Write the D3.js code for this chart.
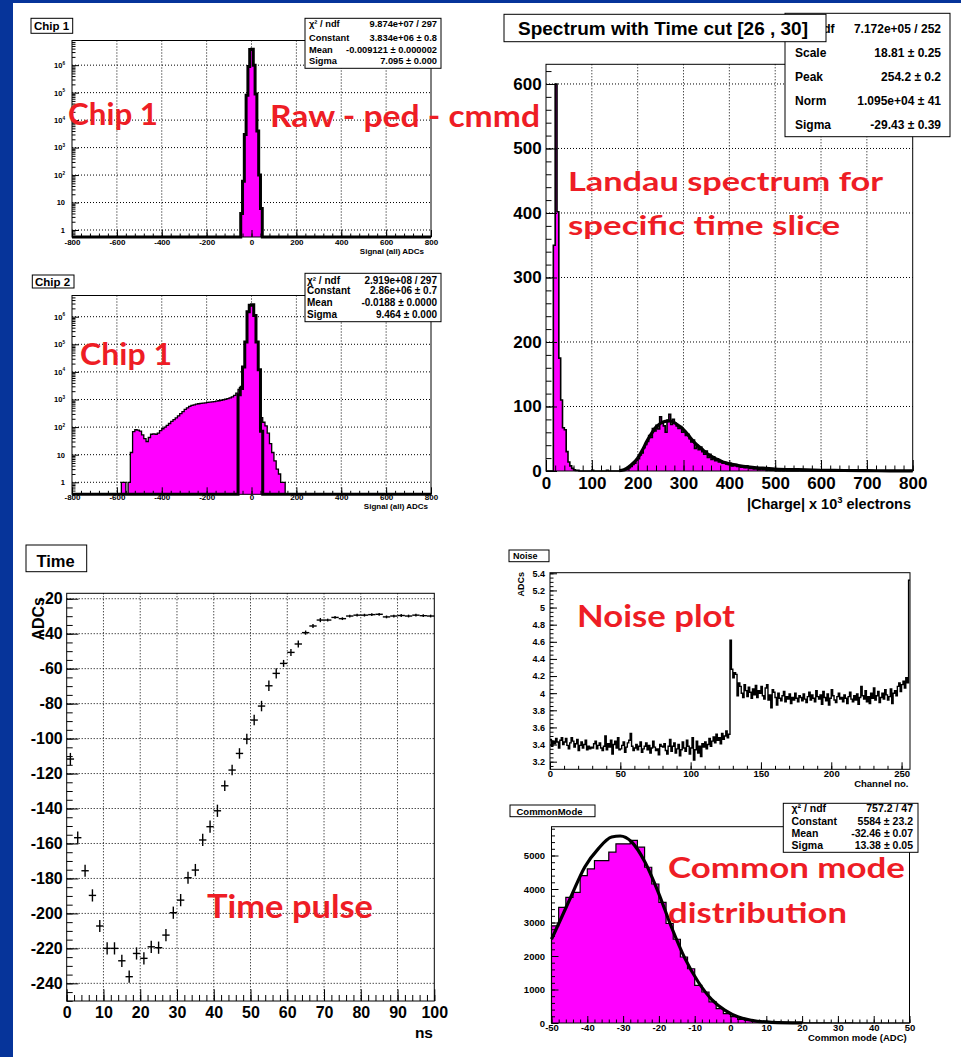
<!DOCTYPE html>
<html>
<head>
<meta charset="utf-8">
<script src="https://cdn.jsdelivr.net/npm/d3@7"></script>
<style>
body { margin: 0; background: #fff; }
svg { display: block; }
</style>
</head>
<body>
<script>
// ---------- data ----------
var chip1Start = -48, chip1Width = 8
var chip1Counts = [4, 60, 3000, 80000, 900000, 3700000, 3800000, 1000000, 90000, 4000, 100, 6]
var chip1Stats = [["χ² / ndf", "9.874e+07 / 297"], ["Constant", "3.834e+06 ± 0.8"], ["Mean", "-0.009121 ± 0.000002"], ["Sigma", "7.095 ± 0.000"]]

var chip2Start = -580, chip2Width = 10
var chip2Wide = [1, 1, 0, 1, 12, 68, 80, 78, 72, 52, 38, 30, 42, 55, 57, 55, 60, 75, 87, 100,
    115, 135, 160, 185, 215, 255, 305, 365, 440, 500, 560, 610, 640, 680, 700, 720, 740, 760, 780, 800,
    820, 840, 870, 900, 940, 980, 1020, 1080, 1150, 1250, 1400, 1700, 2300, 3000, 4000, 4000, 3000, 2000, 1200, 800,
    500, 360, 220, 150, 110, 60, 25, 12, 6, 3, 2, 1, 1]
var chip2PeakStart = -60
var chip2Peak = [1500, 2500, 15000, 120000, 1500000, 2600000, 2700000, 1100000, 120000, 12000, 70]
var chip2Stats = [["χ² / ndf", "2.919e+08 / 297"], ["Constant", "2.86e+06 ± 0.7"], ["Mean", "-0.0188 ± 0.0000"], ["Sigma", "9.464 ± 0.000"]]
var chipXTicks = [-800, -600, -400, -200, 0, 200, 400, 600, 800]
var chipYTicks = [1, 10, 100, 1000, 10000, 100000, 1000000]

var specWidth = 4
var specCounts = [
    0, 0, 0, 0, 350, 600, 402, 175, 110, 67, 64, 30, 14, 8, 4, 2, 1, 1, 0, 0,
    0, 0, 0, 0, 0, 1, 0, 0, 0, 0, 0, 0, 0, 1, 0, 0, 0, 0, 0, 0,
    0, 1, 1, 2, 3, 5, 7, 10, 12, 17, 19, 25, 28, 36, 41, 46, 55, 52, 66, 62,
    71, 65, 84, 74, 70, 60, 79, 88, 72, 80, 74, 70, 66, 69, 60, 62, 55, 57, 50, 45,
    48, 35, 40, 33, 37, 30, 26, 31, 21, 26, 18, 22, 16, 19, 14, 15, 12, 13, 11, 10,
    12, 8, 9, 10, 7, 8, 6, 7, 5, 8, 6, 4, 5, 3, 4, 3, 2, 4, 2, 3,
    1, 2, 1, 1, 2, 0, 1, 0, 1, 0, 1, 0, 0, 0, 0, 0, 0, 0, 1, 0,
    0, 0, 0, 0, 0, 0, 0, 0, 0, 0, 1, 0, 0, 0, 0, 0, 0, 0, 0, 0,
    0, 0, 0, 1, 0, 0, 0, 0, 0, 0, 0, 0, 0, 0, 0, 0, 0, 0, 0, 0,
    0, 0, 0, 0, 0, 0, 0, 0, 0, 0, 0, 0, 0, 0, 0, 0, 0, 0, 0, 0]
var specFitX = [160, 170, 180, 190, 200, 210, 220, 230, 240, 250, 260, 270, 280, 290, 300, 310, 320, 330, 340, 350, 360, 370, 380, 390, 400, 420, 440, 460, 480, 500, 550, 600, 650, 700, 750, 800]
var specFitY = [0.5, 2, 6, 12, 20, 32, 46, 58, 68, 74, 77, 77.5, 75, 70, 64, 56, 47, 40, 34, 28, 23, 19, 16, 13, 11, 8.5, 6.5, 5, 4, 3, 2, 1.2, 0.8, 0.5, 0.3, 0.2]
var specStats = [["χ² / ndf", "7.172e+05 / 252"], ["Scale", "18.81 ± 0.25"], ["Peak", "254.2 ± 0.2"], ["Norm", "1.095e+04 ± 41"], ["Sigma", "-29.43 ± 0.39"]]
var specXTicks = [0, 100, 200, 300, 400, 500, 600, 700, 800]
var specYTicks = [0, 100, 200, 300, 400, 500, 600]

var timeNs = [1, 3, 5, 7, 9, 11, 13, 15, 17, 19, 21, 23, 25, 27, 29, 31, 33, 35, 37, 39, 41, 43, 45, 47, 49,
    51, 53, 55, 57, 59, 61, 63, 65, 67, 69, 71, 73, 75, 77, 79, 81, 83, 85, 87, 89, 91, 93, 95, 97, 99]
var timeAdc = [-111.7, -156.7, -175.6, -189.7, -207.2, -220, -220, -227.1, -236.2, -222.9,
    -225.7, -219.1, -219.6, -212.4, -199.6, -192.4, -179.6, -175.2, -158, -150.4,
    -141.3, -127, -118, -108.5, -100.3, -89.4, -81.4, -69.8, -62.7, -57,
    -50.7, -45.9, -39.4, -35.6, -32.2, -32.2, -30.7, -31.4, -29.9, -29.4,
    -29.4, -29.1, -28.9, -30.4, -29.9, -29.6, -29.9, -29.4, -29.7, -29.9]
var timeErr = [3.5, 3.5, 3.5, 3.5, 3.5, 3.5, 3.5, 3.5, 3.5, 3.5, 3.5, 3.5, 3.5, 3.5, 3.5, 3.5, 3.5, 3.5, 3.5, 3.5,
    3.5, 3, 3, 3, 3, 3, 3, 3, 3, 2, 2, 2, 1.2, 1.2, 1.2, 0.8, 0.8, 0.8, 0.8, 0.8,
    0.8, 0.8, 0.8, 0.8, 0.8, 0.8, 0.8, 0.8, 0.8, 0.8]
var timeXTicks = [0, 10, 20, 30, 40, 50, 60, 70, 80, 90, 100]
var timeYTicks = [-240, -220, -200, -180, -160, -140, -120, -100, -80, -60, -40, -20]

var noiseAdc = [
    3.46, 3.38, 3.44, 3.41, 3.47, 3.43, 3.36, 3.45, 3.48, 3.40, 3.43, 3.47, 3.39, 3.35, 3.42, 3.48,
    3.44, 3.37, 3.41, 3.46, 3.33, 3.39, 3.43, 3.36, 3.40, 3.45, 3.34, 3.38, 3.35, 3.37, 3.36, 3.41,
    3.44, 3.35, 3.39, 3.42, 3.36, 3.33, 3.38, 3.50, 3.34, 3.41, 3.37, 3.45, 3.29, 3.40, 3.44, 3.36,
    3.48, 3.34, 3.35, 3.39, 3.43, 3.31, 3.37, 3.42, 3.45, 3.53, 3.38, 3.33, 3.36, 3.40, 3.34, 3.38,
    3.43, 3.31, 3.35, 3.38, 3.42, 3.34, 3.39, 3.30, 3.36, 3.44, 3.37, 3.33, 3.35, 3.28, 3.40, 3.38,
    3.37, 3.41, 3.33, 3.29, 3.38, 3.46, 3.32, 3.38, 3.42, 3.30, 3.35, 3.40, 3.27, 3.34, 3.43, 3.36,
    3.32, 3.45, 3.38, 3.29, 3.36, 3.48, 3.22, 3.34, 3.44, 3.30, 3.38, 3.26, 3.41, 3.37, 3.43, 3.35,
    3.40, 3.47, 3.38, 3.44, 3.49, 3.42, 3.52, 3.45, 3.48, 3.41, 3.53, 3.46, 3.50, 3.56, 3.48, 3.52,
    4.62, 4.28, 4.18, 4.24, 4.22, 3.97, 4.12, 4.08, 4.00, 3.95, 4.10, 4.03, 3.96, 4.07, 4.01, 3.94,
    4.05, 3.98, 4.09, 3.95, 4.03, 4.00, 4.08, 3.97, 3.93, 4.06, 4.10, 3.92, 3.98, 3.83, 4.04, 4.01,
    3.95, 3.86, 4.00, 3.94, 3.91, 3.97, 4.02, 3.90, 3.96, 3.93, 3.99, 3.88, 3.95, 3.92, 4.00, 3.94,
    3.90, 3.97, 3.95, 3.91, 3.99, 3.93, 3.89, 3.96, 4.01, 3.92, 3.98, 3.94, 3.90, 4.03, 3.96, 3.93,
    3.98, 3.87, 4.02, 3.95, 3.91, 3.99, 3.86, 3.94, 4.04, 3.97, 3.92, 3.89, 3.96, 4.00, 3.93, 3.95,
    3.90, 3.98, 3.94, 3.88, 3.96, 4.01, 3.93, 3.90, 3.97, 3.92, 3.99, 3.87, 3.95, 4.08, 3.97, 3.93,
    4.03, 3.90, 3.96, 3.88, 4.00, 3.94, 4.06, 3.92, 3.97, 4.02, 3.89, 3.95, 4.00, 3.93, 4.04, 3.98,
    3.92, 3.96, 4.05, 3.88, 4.00, 4.03, 3.97, 4.08, 4.12, 4.02, 4.10, 4.14, 4.06, 4.18, 4.12, 5.32]
var noiseXTicks = [0, 50, 100, 150, 200, 250]
var noiseYTicks = [3.2, 3.4, 3.6, 3.8, 4, 4.2, 4.4, 4.6, 4.8, 5, 5.2, 5.4]

var cmStart = -50, cmWidth = 2
var cmCounts = [2900, 3450, 3750, 3900, 4400, 4600, 4850, 4850, 5100, 5350,
    5350, 5450, 5250, 4650, 4150, 3600, 2970, 2500, 1970, 1620,
    1125, 925, 630, 430, 280, 190, 110, 80, 50, 30,
    20, 12, 8, 5, 3, 2, 1, 1, 1, 0,
    0, 1, 0, 0, 0, 0, 0, 0, 0, 0]
var cmFitX = [-50, -47.2, -44.4, -40.7, -36.9, -33.2, -30.8, -27.6, -23.9, -20.2, -16.5, -12.7, -9, -5.3, -1.5, 2.2, 5.9, 11.5, 20]
var cmFitY = [2500, 3150, 3812, 4657, 5206, 5552, 5582, 5403, 4806, 3910, 2866, 1922, 1224, 707, 379, 179, 80, 20, 2]
var cmStats = [["χ² / ndf", "757.2 / 47"], ["Constant", "5584 ± 23.2"], ["Mean", "-32.46 ± 0.07"], ["Sigma", "13.38 ± 0.05"]]
var cmXTicks = [-50, -40, -30, -20, -10, 0, 10, 20, 30, 40, 50]
var cmYTicks = [0, 1000, 2000, 3000, 4000, 5000]

// ---------- drawing ----------
var FONT = "'Liberation Sans', Arial, Helvetica, sans-serif"
var MAGENTA = "#ff00ff"
var svg = d3.select("body").append("svg").attr("width", 961).attr("height", 1057)
    .attr("font-family", FONT).attr("font-weight", "bold")

svg.append("rect").attr("x", 0).attr("y", 0).attr("width", 961).attr("height", 1057).attr("fill", "#fff")
svg.append("rect").attr("x", 0).attr("y", 0).attr("width", 13).attr("height", 1057).attr("fill", "#06349a")
svg.append("rect").attr("x", 0).attr("y", 0).attr("width", 961).attr("height", 3).attr("fill", "#06349a")

function str(d) { return String(d) }

function axisStyle(sel, fs) {
    sel.select(".domain").remove()
    sel.attr("font-family", FONT).attr("font-size", fs).attr("font-weight", "bold")
    sel.selectAll(".tick text").attr("fill", "#000")
    sel.selectAll(".tick line").attr("stroke", "#000")
}

function drawGrid(g, x, y, xs, ys) {
    var b = y.range()[0], t = y.range()[1], l = x.range()[0], r = x.range()[1]
    g.append("g").selectAll("line").data(xs).enter().append("line")
        .attr("x1", function(d) { return x(d) }).attr("x2", function(d) { return x(d) })
        .attr("y1", t).attr("y2", b)
        .attr("stroke", "#000").attr("stroke-width", 1).attr("stroke-dasharray", "1,2")
    g.append("g").selectAll("line").data(ys).enter().append("line")
        .attr("y1", function(d) { return y(d) }).attr("y2", function(d) { return y(d) })
        .attr("x1", l).attr("x2", r)
        .attr("stroke", "#000").attr("stroke-width", 1).attr("stroke-dasharray", "1,2")
}

function drawAxes(g, x, y, o) {
    var b = y.range()[0], l = x.range()[0]
    g.append("g").attr("transform", "translate(0," + b + ")")
        .call(d3.axisBottom(x).tickValues(o.xMinor).tickSize(-o.tMin).tickFormat(""))
        .call(axisStyle, o.xfs)
    g.append("g").attr("transform", "translate(0," + b + ")")
        .call(d3.axisBottom(x).tickValues(o.xMajor).tickSize(-o.tMaj).tickPadding(o.xPad).tickFormat(o.xFmt || str))
        .call(axisStyle, o.xfs)
    g.append("g").attr("transform", "translate(" + l + ",0)")
        .call(d3.axisLeft(y).tickValues(o.yMinor).tickSize(-o.tMin).tickFormat(""))
        .call(axisStyle, o.yfs)
    return g.append("g").attr("transform", "translate(" + l + ",0)")
        .call(d3.axisLeft(y).tickValues(o.yMajor).tickSize(-o.tMaj).tickPadding(o.yPad).tickFormat(o.yFmt || str))
        .call(axisStyle, o.yfs)
}

function drawFrame(g, x, y) {
    var l = x.range()[0], r = x.range()[1], b = y.range()[0], t = y.range()[1]
    g.append("rect").attr("x", l).attr("y", t).attr("width", r - l).attr("height", b - t)
        .attr("fill", "none").attr("stroke", "#000").attr("stroke-width", 1)
}

// step outline points over the full axis range
function histPoints(lo, hi, start, width, counts) {
    var pts = [[lo, 0]]
    counts.forEach(function(c, i) { pts.push([start + i * width, c]) })
    pts.push([start + counts.length * width, 0])
    pts.push([hi, 0])
    return pts
}

function drawHist(g, x, y, pts, fill, stroke, sw) {
    var ymin = y.domain()[0]
    var yv = function(d) { return y(Math.max(d[1], ymin)) }
    if (fill) {
        g.append("path").datum(pts)
            .attr("d", d3.area().curve(d3.curveStepAfter).x(function(d) { return x(d[0]) }).y0(y.range()[0]).y1(yv))
            .attr("fill", fill)
    }
    g.append("path").datum(pts)
        .attr("d", d3.line().curve(d3.curveStepAfter).x(function(d) { return x(d[0]) }).y(yv))
        .attr("fill", "none").attr("stroke", stroke).attr("stroke-width", sw)
}

function titleBox(x0, y0, x1, y1, s, fs, tx, ty) {
    svg.append("rect").attr("x", x0).attr("y", y0).attr("width", x1 - x0).attr("height", y1 - y0)
        .attr("fill", "#fff").attr("stroke", "#000").attr("stroke-width", 1)
    svg.append("text").attr("x", tx).attr("y", ty).attr("font-size", fs).text(s)
}

function statsBox(x0, y0, x1, y1, rows, fs, lx, rx, ys) {
    svg.append("rect").attr("x", x0).attr("y", y0).attr("width", x1 - x0).attr("height", y1 - y0)
        .attr("fill", "#fff").attr("stroke", "#000").attr("stroke-width", 1)
    rows.forEach(function(rw, i) {
        svg.append("text").attr("x", lx).attr("y", ys[i]).attr("font-size", fs).text(rw[0])
        svg.append("text").attr("x", rx).attr("y", ys[i]).attr("font-size", fs)
            .attr("text-anchor", "end").text(rw[1])
    })
}

function logMinor(dom) {
    var out = []
    for (var e = -1; e <= 7; e++) {
        for (var k = 2; k <= 9; k++) {
            var v = k * Math.pow(10, e)
            if (v > dom[0] && v < dom[1]) out.push(v)
        }
    }
    return out
}

function logLabels(axisG, fs) {
    axisG.selectAll(".tick text").each(function(d) {
        var t = d3.select(this), e = Math.round(Math.log10(d))
        t.text(e == 0 ? "1" : "10")
        if (e > 1) t.append("tspan").attr("dy", -fs * 0.45).attr("font-size", fs * 0.62).text(e)
    })
}

function chipPanel(box, yDom, xPad) {
    var g = svg.append("g")
    var x = d3.scaleLinear().domain([-800, 800]).range([box.l, box.r])
    var y = d3.scaleLog().domain(yDom).range([box.b, box.t])
    drawGrid(g, x, y, chipXTicks.slice(1, -1), chipYTicks)
    return {g: g, x: x, y: y, axes: function() {
        var ya = drawAxes(g, x, y, {xMajor: chipXTicks, xMinor: d3.range(-800, 801, 40), yMajor: chipYTicks,
            yMinor: logMinor(yDom), tMaj: 7, tMin: 3.5, xfs: 8, yfs: 7.5, xPad: xPad, yPad: 7, yFmt: function() { return "" }})
        logLabels(ya, 7.5)
        drawFrame(g, x, y)
    }}
}

// Chip 1
var p1 = chipPanel({l: 72, r: 431, t: 40.5, b: 237}, [0.556, 7.9e6], 2.5)
drawHist(p1.g, p1.x, p1.y, histPoints(-800, 800, chip1Start, chip1Width, chip1Counts), MAGENTA, "#000", 3)
p1.axes()
svg.append("text").attr("x", 424).attr("y", 254).attr("font-size", 8).attr("text-anchor", "end").text("Signal (all) ADCs")
titleBox(31, 18.3, 72.7, 33.3, "Chip 1", 11.5, 34, 29.5)
statsBox(305, 18.3, 441, 68.3, chip1Stats, 9.3, 309, 437, [27, 40.5, 52.5, 64])

// Chip 2
var p2 = chipPanel({l: 72, r: 431, t: 295.5, b: 494.3}, [0.367, 5.86e6], 0.5)
drawHist(p2.g, p2.x, p2.y, histPoints(-800, 800, chip2Start, chip2Width, chip2Wide), MAGENTA, "#000", 1.3)
drawHist(p2.g, p2.x, p2.y, histPoints(-800, 800, chip2PeakStart, chip2Width, chip2Peak), MAGENTA, "#000", 3)
p2.axes()
svg.append("text").attr("x", 428).attr("y", 508.5).attr("font-size", 8).attr("text-anchor", "end").text("Signal (all) ADCs")
titleBox(32.3, 275, 74, 288, "Chip 2", 11.5, 35, 285.5)
statsBox(305, 273.3, 441, 321.7, chip2Stats, 10, 307, 437, [283.5, 294, 306, 317.5])

// Spectrum with time cut
var gs = svg.append("g")
var xS = d3.scaleLinear().domain([0, 800]).range([546, 912.7])
var yS = d3.scaleLinear().domain([0, 630.5]).range([471, 64.3])
drawGrid(gs, xS, yS, specXTicks.slice(1, -1), specYTicks.slice(1))
drawHist(gs, xS, yS, histPoints(0, 800, 0, specWidth, specCounts), MAGENTA, "#000", 1.6)
gs.append("path").datum(specFitX.map(function(d, i) { return [d, specFitY[i]] }))
    .attr("d", d3.line().curve(d3.curveMonotoneX).x(function(d) { return xS(d[0]) }).y(function(d) { return yS(d[1]) }))
    .attr("fill", "none").attr("stroke", "#000").attr("stroke-width", 3.2)
drawAxes(gs, xS, yS, {xMajor: specXTicks, xMinor: d3.range(0, 801, 20), yMajor: specYTicks, yMinor: d3.range(0, 621, 20),
    tMaj: 11, tMin: 5.5, xfs: 17, yfs: 17, xPad: 5.6, yPad: 4.3})
drawFrame(gs, xS, yS)
var chargeTitle = svg.append("text").attr("x", 911).attr("y", 508.5).attr("font-size", 14.5).attr("text-anchor", "end")
chargeTitle.append("tspan").text("|Charge| x 10")
chargeTitle.append("tspan").attr("dy", -6).attr("font-size", 9.5).text("3")
chargeTitle.append("tspan").attr("dy", 6).text(" electrons")
statsBox(785, 13.3, 950, 136.7, specStats, 12, 795, 941, [32.5, 56.5, 80.5, 104.5, 128.5])
titleBox(504, 14.3, 826, 41.7, "Spectrum with Time cut [26 , 30]", 19, 518, 34.6)

// Time
var gt = svg.append("g")
var xT = d3.scaleLinear().domain([0, 100]).range([66.7, 434.3])
var yT = d3.scaleLinear().domain([-250.1, -16.9]).range([1001, 593.3])
drawGrid(gt, xT, yT, timeXTicks.slice(1, -1), timeYTicks)
drawAxes(gt, xT, yT, {xMajor: timeXTicks, xMinor: d3.range(0, 101, 2), yMajor: timeYTicks, yMinor: d3.range(-250, -19, 5),
    tMaj: 11.7, tMin: 6, xfs: 16, yfs: 16, xPad: 5.6, yPad: 4})
drawFrame(gt, xT, yT)
var pts = gt.append("g").selectAll("g").data(timeNs).enter().append("g")
pts.append("line")
    .attr("x1", function(d) { return xT(d - 1) }).attr("x2", function(d) { return xT(d + 1) })
    .attr("y1", function(d, i) { return yT(timeAdc[i]) }).attr("y2", function(d, i) { return yT(timeAdc[i]) })
    .attr("stroke", "#000").attr("stroke-width", 1.4)
pts.append("line")
    .attr("x1", function(d) { return xT(d) }).attr("x2", function(d) { return xT(d) })
    .attr("y1", function(d, i) { return yT(timeAdc[i] - timeErr[i]) }).attr("y2", function(d, i) { return yT(timeAdc[i] + timeErr[i]) })
    .attr("stroke", "#000").attr("stroke-width", 1.4)
svg.append("text").attr("x", 433).attr("y", 1038).attr("font-size", 15.5).attr("text-anchor", "end").text("ns")
svg.append("text").attr("transform", "translate(44,597) rotate(-90)").attr("font-size", 16).attr("text-anchor", "end").text("ADCs")
titleBox(26, 545, 86.7, 571.7, "Time", 16.5, 36.5, 566.8)

// Noise
var gn = svg.append("g")
var xN = d3.scaleLinear().domain([0, 256]).range([550, 910])
var yN = d3.scaleLinear().domain([3.111, 5.407]).range([769.3, 572.7])
gn.append("path").datum(noiseAdc.map(function(d, i) { return [i, d] }).concat([[256, noiseAdc[255]]]))
    .attr("d", d3.line().curve(d3.curveStepAfter).x(function(d) { return xN(d[0]) }).y(function(d) { return yN(d[1]) }))
    .attr("fill", "none").attr("stroke", "#000").attr("stroke-width", 1.4)
drawAxes(gn, xN, yN, {xMajor: noiseXTicks, xMinor: d3.range(0, 256, 10), yMajor: noiseYTicks, yMinor: d3.range(3.15, 5.41, 0.05),
    tMaj: 7, tMin: 3.5, xfs: 9.5, yfs: 9, xPad: 0.5, yPad: 5})
drawFrame(gn, xN, yN)
svg.append("text").attr("x", 908.5).attr("y", 786.7).attr("font-size", 9.5).attr("text-anchor", "end").text("Channel no.")
svg.append("text").attr("transform", "translate(524,572) rotate(-90)").attr("font-size", 9).attr("text-anchor", "end").text("ADCs")
titleBox(509, 550, 549, 561.7, "Noise", 9, 513, 559.3)

// Common mode
var gc = svg.append("g")
var xC = d3.scaleLinear().domain([-50, 50]).range([551.5, 909.5])
var yC = d3.scaleLinear().domain([0, 5860]).range([1023, 826.7])
drawHist(gc, xC, yC, histPoints(-50, 50, cmStart, cmWidth, cmCounts), MAGENTA, "#000", 1.2)
gc.append("path").datum(cmFitX.map(function(d, i) { return [d, cmFitY[i]] }))
    .attr("d", d3.line().curve(d3.curveMonotoneX).x(function(d) { return xC(d[0]) }).y(function(d) { return yC(d[1]) }))
    .attr("fill", "none").attr("stroke", "#000").attr("stroke-width", 3.2)
drawAxes(gc, xC, yC, {xMajor: cmXTicks, xMinor: d3.range(-50, 51, 2), yMajor: cmYTicks, yMinor: d3.range(0, 5801, 200),
    tMaj: 7, tMin: 3.5, xfs: 9.5, yfs: 9.5, xPad: 1, yPad: 6.5})
drawFrame(gc, xC, yC)
svg.append("text").attr("x", 906.7).attr("y", 1040.7).attr("font-size", 9.5).attr("text-anchor", "end").text("Common mode (ADC)")
titleBox(510, 805, 595, 816.7, "CommonMode", 9.5, 516.5, 814.5)
statsBox(783.3, 803.3, 918, 852.3, cmStats, 10.5, 791.5, 913, [812, 824.7, 837, 848.7])

// red slide annotations
var notes = [
    ["Chip 1", 68, 125, 30, 90],
    ["Raw - ped - cmmd", 270, 127, 31, 270],
    ["Chip 1", 80, 365, 30, 92],
    ["Landau spectrum for", 568, 191, 27, 315],
    ["specific time slice", 568, 235, 27, 272],
    ["Noise plot", 577, 627, 30, 158],
    ["Common mode", 668, 878, 28, 237],
    ["distribution", 668, 923, 28, 179],
    ["Time pulse", 207, 917.5, 33, 166]
]
svg.append("g").selectAll("text").data(notes).enter().append("text")
    .attr("x", function(d) { return d[1] }).attr("y", function(d) { return d[2] })
    .attr("font-size", function(d) { return d[3] })
    .attr("textLength", function(d) { return d[4] }).attr("lengthAdjust", "spacingAndGlyphs")
    .attr("font-family", "Lato, 'Open Sans', sans-serif").attr("font-weight", 700)
    .attr("fill", "#ee1d25")
    .text(function(d) { return d[0] })
</script>
</body>
</html>
